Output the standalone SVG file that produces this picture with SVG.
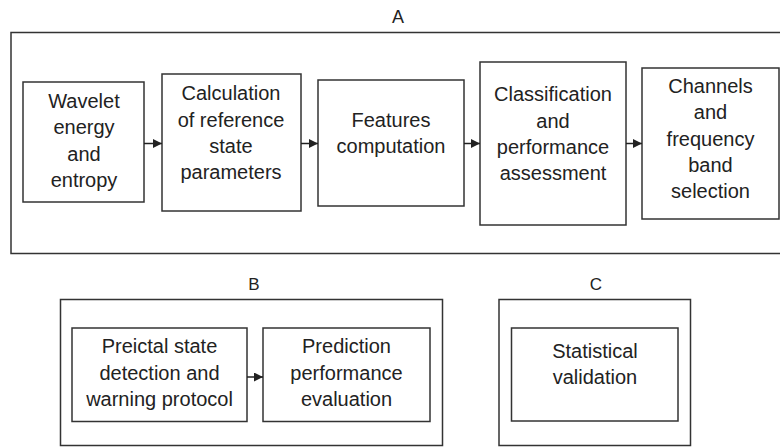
<svg xmlns="http://www.w3.org/2000/svg" width="780" height="447" viewBox="0 0 780 447">
<defs>
<style>
.frame{fill:none;stroke:#333;stroke-width:1.5}
.box{fill:#fff;stroke:#333;stroke-width:1.5}
.t{font-family:"Liberation Sans",Arial,Helvetica,sans-serif;font-size:20px;fill:#222;text-anchor:middle}
.lbl{font-family:"Liberation Sans",Arial,Helvetica,sans-serif;font-size:17px;fill:#222;text-anchor:middle}
.conn{stroke:#222;stroke-width:1.5;fill:none;marker-end:url(#ah)}
</style>
<marker id="ah" viewBox="0 0 10 10" refX="10" refY="5" markerWidth="11" markerHeight="9" markerUnits="userSpaceOnUse" orient="auto">
<path d="M0,0 L10,5 L0,10 Z" fill="#222"/>
</marker>
</defs>
<rect width="780" height="447" fill="#fff"/>

<g id="panelA">
<text class="lbl" x="398" y="23" style="font-size:18px">A</text>
<rect class="frame" x="11" y="32.5" width="780" height="221"/>
</g>
<g id="panelB">
<text class="lbl" x="254" y="290">B</text>
<rect class="frame" x="60.5" y="299.5" width="382" height="146"/>
</g>
<g id="panelC">
<text class="lbl" x="596" y="290">C</text>
<rect class="frame" x="499" y="299.5" width="191.5" height="146"/>
</g>

<g id="n1">
<rect class="box" x="23" y="82" width="121" height="120"/>
<text class="t" x="84" y="108">Wavelet</text>
<text class="t" x="84" y="134">energy</text>
<text class="t" x="84" y="161">and</text>
<text class="t" x="84" y="187">entropy</text>
</g>
<g id="n2">
<rect class="box" x="162" y="74" width="139" height="137"/>
<text class="t" x="231" y="100">Calculation</text>
<text class="t" x="231" y="127">of reference</text>
<text class="t" x="231" y="153">state</text>
<text class="t" x="231" y="179">parameters</text>
</g>
<g id="n3">
<rect class="box" x="318" y="80" width="146" height="126"/>
<text class="t" x="391" y="127">Features</text>
<text class="t" x="391" y="153">computation</text>
</g>
<g id="n4">
<rect class="box" x="480" y="62" width="146" height="163"/>
<text class="t" x="553" y="101">Classification</text>
<text class="t" x="553" y="128">and</text>
<text class="t" x="553" y="154">performance</text>
<text class="t" x="553" y="180">assessment</text>
</g>
<g id="n5">
<rect class="box" x="642" y="68" width="137" height="151"/>
<text class="t" x="710.5" y="93">Channels</text>
<text class="t" x="710.5" y="119">and</text>
<text class="t" x="710.5" y="146">frequency</text>
<text class="t" x="710.5" y="172">band</text>
<text class="t" x="710.5" y="198">selection</text>
</g>
<g id="n6">
<rect class="box" x="72" y="328" width="175" height="93.5"/>
<text class="t" x="159.5" y="353">Preictal state</text>
<text class="t" x="159.5" y="380">detection and</text>
<text class="t" x="159.5" y="406">warning protocol</text>
</g>
<g id="n7">
<rect class="box" x="263" y="328" width="167" height="93.5"/>
<text class="t" x="346.5" y="353">Prediction</text>
<text class="t" x="346.5" y="380">performance</text>
<text class="t" x="346.5" y="406">evaluation</text>
</g>
<g id="n8">
<rect class="box" x="511.5" y="328" width="166.5" height="93"/>
<text class="t" x="595" y="358">Statistical</text>
<text class="t" x="595" y="384">validation</text>
</g>

<g id="connectors">
<line class="conn" x1="144" y1="143.5" x2="162" y2="143.5"/>
<line class="conn" x1="301" y1="143.5" x2="318" y2="143.5"/>
<line class="conn" x1="464" y1="143.5" x2="480" y2="143.5"/>
<line class="conn" x1="626" y1="143.5" x2="642" y2="143.5"/>
<line class="conn" x1="247" y1="377" x2="263" y2="377"/>
</g>
</svg>
